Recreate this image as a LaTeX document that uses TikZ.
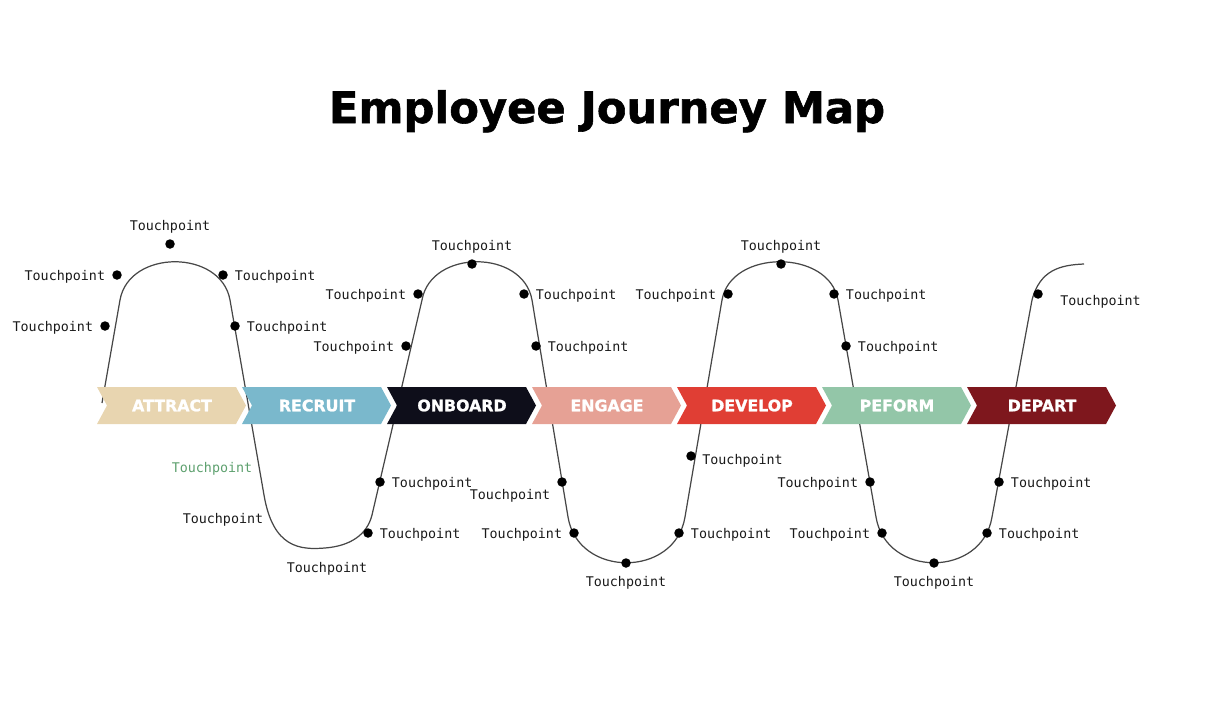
\documentclass[tikz,border=0pt]{standalone}
\usepackage{fontspec}
\usepackage{tikz}
\usetikzlibrary{positioning,calc}
\newfontfamily\tpfont{DejaVu Sans Mono}
\newfontfamily\headfont{DejaVu Sans}[BoldFeatures={FakeBold=1.3}]
\definecolor{attractcol}{HTML}{E8D5B0}
\definecolor{recruitcol}{HTML}{7AB8CC}
\definecolor{onboardcol}{HTML}{0E0E1A}
\definecolor{engagecol}{HTML}{E6A195}
\definecolor{developcol}{HTML}{E03E34}
\definecolor{performcol}{HTML}{93C6A8}
\definecolor{departcol}{HTML}{7E171D}
\definecolor{tpgreen}{HTML}{5DA06E}
\tikzset{
	tpdot/.style={circle, fill=black, inner sep=0pt, minimum size=0.19cm},
	tplabel/.style={inner sep=0pt, font=\tpfont\fontsize{7.6}{9}\selectfont, text=black!90, yshift=-0.03cm},
	stagetext/.style={font=\headfont\bfseries\fontsize{9}{10}\selectfont, text=white},
	journeyline/.style={draw=black!72, line width=0.7pt}
}
\begin{document}
\begin{tikzpicture}[x=0.02cm, y=-0.02cm, node distance=0.13cm]
	\useasboundingbox (0,0) rectangle (1226,706);
	\node[anchor=base, font=\headfont\bfseries\fontsize{24.6}{28}\selectfont] (title) at (607,123) {Employee Journey Map};
	% the wave behind the stages
	\draw[journeyline] (102,403) -- (120,300)
		.. controls (129,249) and (221,249) .. (230,300)
		-- (264,495)
		.. controls (273,548) and (300,550) .. (325,548)
		.. controls (350,546) and (367,535) .. (372,515)
		-- (422,300)
		.. controls (431,249) and (523,249) .. (532,300)
		-- (568,517)
		.. controls (578,578) and (675,578) .. (685,517)
		-- (722,300)
		.. controls (731,249) and (829,249) .. (838,300)
		-- (876,517)
		.. controls (886,578) and (982,578) .. (992,517)
		-- (1032,300)
		.. controls (1040,270) and (1060,265) .. (1084,264);
	% stages
	\foreach \lbl/\col [count=\i from 0] in {ATTRACT/attractcol, RECRUIT/recruitcol, ONBOARD/onboardcol, ENGAGE/engagecol, DEVELOP/developcol, PEFORM/performcol, DEPART/departcol}{
		\fill[\col] ({97+145*\i},387) -- ++(139,0) -- ++(10,18.5) -- ++(-10,18.5) -- ++(-139,0) -- ++(10,-18.5) -- cycle;
		\node[stagetext] (stage\i) at ({172+145*\i},405.5) {\lbl};
	}
	% attract
	\node[tpdot] (a1) at (170,244) {};
	\node[tplabel, above=of a1] (a1l) {Touchpoint};
	\node[tpdot] (a2) at (117,275) {};
	\node[tplabel, left=of a2] (a2l) {Touchpoint};
	\node[tpdot] (a3) at (223,275) {};
	\node[tplabel, right=of a3] (a3l) {Touchpoint};
	\node[tpdot] (a4) at (105,326) {};
	\node[tplabel, left=of a4] (a4l) {Touchpoint};
	\node[tpdot] (a5) at (235,326) {};
	\node[tplabel, right=of a5] (a5l) {Touchpoint};
	% recruit
	\node[tplabel, text=tpgreen] (r1l) at (212,467) {Touchpoint};
	\node[tplabel] (r2l) at (223,518) {Touchpoint};
	\node[tplabel] (r3l) at (327,567) {Touchpoint};
	\node[tpdot] (r4) at (368,533) {};
	\node[tplabel, right=of r4] (r4l) {Touchpoint};
	\node[tpdot] (r5) at (380,482) {};
	\node[tplabel, right=of r5] (r5l) {Touchpoint};
	% onboard
	\node[tpdot] (o1) at (472,264) {};
	\node[tplabel, above=of o1] (o1l) {Touchpoint};
	\node[tpdot] (o2) at (418,294) {};
	\node[tplabel, left=of o2] (o2l) {Touchpoint};
	\node[tpdot] (o3) at (524,294) {};
	\node[tplabel, right=of o3] (o3l) {Touchpoint};
	\node[tpdot] (o4) at (406,346) {};
	\node[tplabel, left=of o4] (o4l) {Touchpoint};
	\node[tpdot] (o5) at (536,346) {};
	\node[tplabel, right=of o5] (o5l) {Touchpoint};
	% engage
	\node[tpdot] (e1) at (562,482) {};
	\node[tplabel] (e1l) at (510,494) {Touchpoint};
	\node[tpdot] (e2) at (574,533) {};
	\node[tplabel, left=of e2] (e2l) {Touchpoint};
	\node[tpdot] (e3) at (626,563) {};
	\node[tplabel, below=of e3] (e3l) {Touchpoint};
	\node[tpdot] (e4) at (679,533) {};
	\node[tplabel, right=of e4] (e4l) {Touchpoint};
	\node[tpdot] (e5) at (691,456) {};
	\node[tplabel, anchor=west] (e5l) at (702,459) {Touchpoint};
	% develop
	\node[tpdot] (d1) at (781,264) {};
	\node[tplabel, above=of d1] (d1l) {Touchpoint};
	\node[tpdot] (d2) at (728,294) {};
	\node[tplabel, left=of d2] (d2l) {Touchpoint};
	\node[tpdot] (d3) at (834,294) {};
	\node[tplabel, right=of d3] (d3l) {Touchpoint};
	\node[tpdot] (d4) at (846,346) {};
	\node[tplabel, right=of d4] (d4l) {Touchpoint};
	% perform
	\node[tpdot] (p1) at (870,482) {};
	\node[tplabel, left=of p1] (p1l) {Touchpoint};
	\node[tpdot] (p2) at (882,533) {};
	\node[tplabel, left=of p2] (p2l) {Touchpoint};
	\node[tpdot] (p3) at (934,563) {};
	\node[tplabel, below=of p3] (p3l) {Touchpoint};
	\node[tpdot] (p4) at (999,482) {};
	\node[tplabel, right=of p4] (p4l) {Touchpoint};
	\node[tpdot] (p5) at (987,533) {};
	\node[tplabel, right=of p5] (p5l) {Touchpoint};
	% depart
	\node[tpdot] (x1) at (1038,294) {};
	\node[tplabel, anchor=west] (x1l) at (1060,300) {Touchpoint};
\end{tikzpicture}
\end{document}
